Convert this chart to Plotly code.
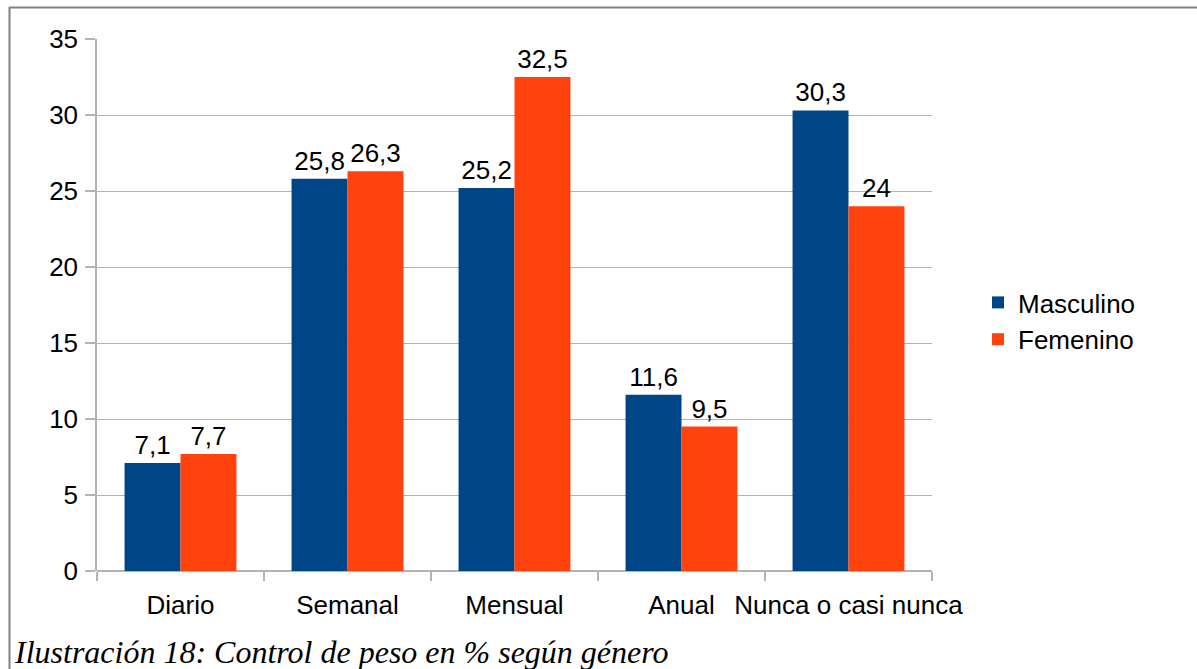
import plotly.graph_objects as go

categorias = ["Diario", "Semanal", "Mensual", "Anual", "Nunca o casi nunca"]
masculino = [7.1, 25.8, 25.2, 11.6, 30.3]
femenino = [7.7, 26.3, 32.5, 9.5, 24]
y_ticks = [0, 5, 10, 15, 20, 25, 30, 35]

W, H = 1197, 669
L, R, T, B = 97, 932, 39, 571  # plot-area pixel box

def px(x):
    return (x - L) / (R - L)

def py(y):
    return (B - y) / (B - T)

font_base = dict(family="Liberation Sans, Arial, sans-serif", size=26, color="#000000")

fig = go.Figure()
fig.add_trace(go.Bar(
    name="Masculino", x=categorias, y=masculino, marker=dict(color="#004586", line=dict(width=0)),
    text=masculino, texttemplate="%{y}", textposition="outside", textfont=font_base, cliponaxis=False,
))
fig.add_trace(go.Bar(
    name="Femenino", x=categorias, y=femenino, marker=dict(color="#ff420e", line=dict(width=0)),
    text=femenino, texttemplate="%{y}", textposition="outside", textfont=font_base, cliponaxis=False,
))

fig.update_layout(
    width=W, height=H,
    margin=dict(l=L, r=W - R, t=T, b=H - B, pad=0, autoexpand=False),
    paper_bgcolor="white", plot_bgcolor="white",
    separators=",.",
    barmode="group", bargap=0.33, bargroupgap=0,
    font=font_base,
    showlegend=True,
    legend=dict(x=px(978), y=py(321), xanchor="left", yanchor="middle",
                font=font_base, tracegroupgap=0, itemwidth=30, bgcolor="rgba(0,0,0,0)"),
    uniformtext=dict(minsize=26, mode="show"),
)
fig.update_xaxes(
    showgrid=False, showline=False, zeroline=False, automargin=False, tickangle=0,
    ticks="outside", ticklen=9, tickcolor="#b3b3b3", tickwidth=1.5,
    tickson="boundaries", tickfont=font_base, ticklabelstandoff=16,
)
fig.update_yaxes(
    range=[0, 35], tickvals=y_ticks, showgrid=True, gridcolor="#b3b3b3", gridwidth=1, automargin=False,
    showline=True, linecolor="#b3b3b3", linewidth=1.5, zeroline=True, zerolinecolor="#b3b3b3", zerolinewidth=1.5,
    ticks="outside", ticklen=10, tickcolor="#b3b3b3", tickwidth=1.5, tickfont=font_base, ticklabelstandoff=2,
)

# outer frame
fig.add_shape(type="line", xref="paper", yref="paper", x0=px(9.5), x1=px(9.5), y0=py(7), y1=py(680),
              line=dict(color="#808080", width=2))
fig.add_shape(type="line", xref="paper", yref="paper", x0=px(9.5), x1=px(1200), y0=py(7.5), y1=py(7.5),
              line=dict(color="#808080", width=2))

fig.add_annotation(
    text="Ilustración 18: Control de peso en % según género",
    xref="paper", yref="paper", x=px(12), y=py(652), xanchor="left", yanchor="middle",
    showarrow=False,
    font=dict(family="Liberation Serif, Times New Roman, serif", size=32, color="#000000", style="italic"),
)

fig.write_html("out.html")
